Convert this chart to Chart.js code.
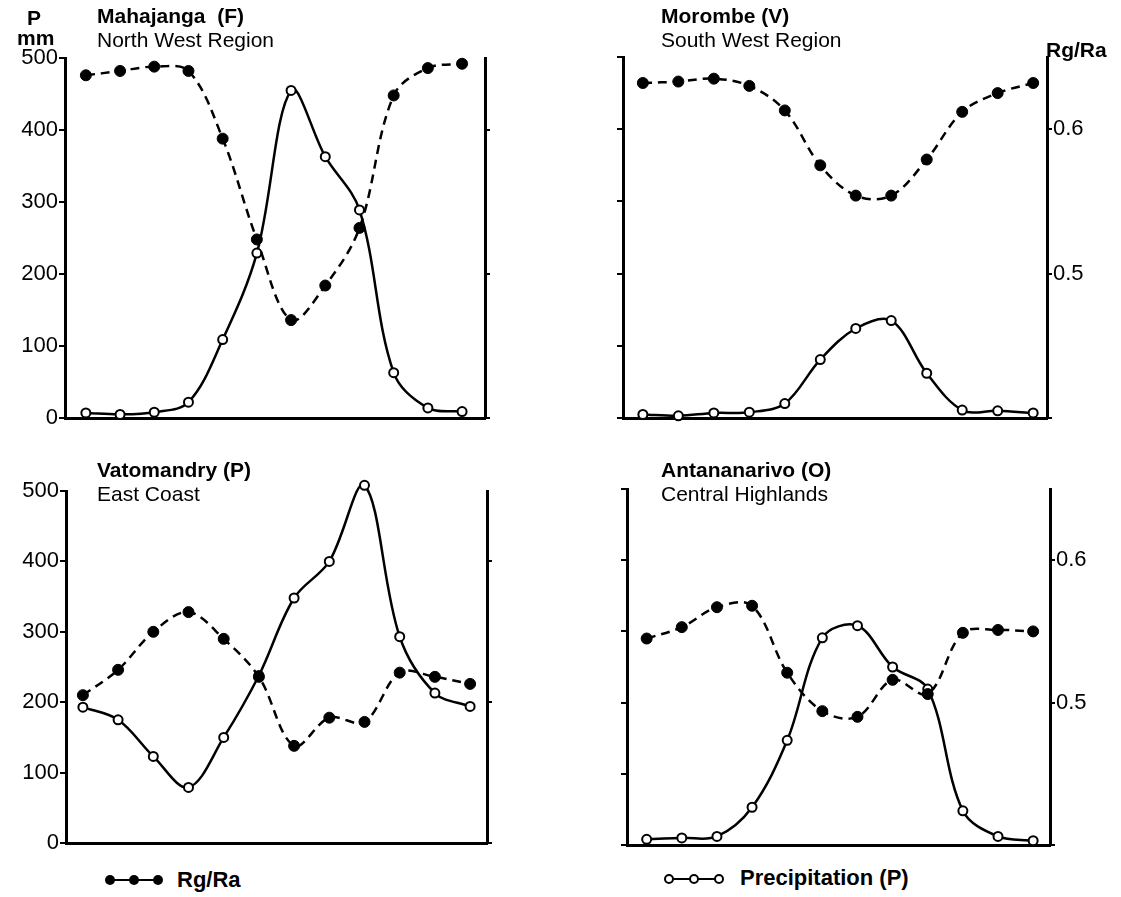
<!DOCTYPE html>
<html>
<head>
<meta charset="utf-8">
<script src="https://cdn.jsdelivr.net/npm/chart.js@4.4.0/dist/chart.umd.min.js"></script>
<style>
  body { margin: 0; background: #fff; }
  #page { position: relative; width: 1121px; height: 897px; overflow: hidden; font-family: "Liberation Sans", Arial, sans-serif; color: #000; }
  canvas { position: absolute; }
  .t { position: absolute; font-size: 21px; line-height: 1; white-space: pre; z-index: 2; }
  .b { font-weight: bold; }
  svg { position: absolute; z-index: 2; }
</style>
</head>
<body>
<div id="page">
  <canvas id="c1"></canvas>
  <canvas id="c2"></canvas>
  <canvas id="c3"></canvas>
  <canvas id="c4"></canvas>

  <div class="t b" style="left:27px;top:7px">P</div>
  <div class="t b" style="left:17px;top:27px">mm</div>
  <div class="t b" style="left:1046px;top:39px">Rg/Ra</div>

  <div class="t b" style="left:97px;top:5px">Mahajanga  (F)</div>
  <div class="t" style="left:97px;top:29px">North West Region</div>
  <div class="t b" style="left:661px;top:5px">Morombe (V)</div>
  <div class="t" style="left:661px;top:29px">South West Region</div>
  <div class="t b" style="left:97px;top:459px">Vatomandry (P)</div>
  <div class="t" style="left:97px;top:483px">East Coast</div>
  <div class="t b" style="left:661px;top:459px">Antananarivo (O)</div>
  <div class="t" style="left:661px;top:483px">Central Highlands</div>

  <svg style="left:100px;top:868px" width="70" height="24">
    <line x1="10" y1="12" x2="58" y2="12" stroke="#000" stroke-width="2"/>
    <circle cx="10" cy="12" r="5" fill="#000"/>
    <circle cx="34" cy="12" r="5" fill="#000"/>
    <circle cx="58" cy="12" r="5" fill="#000"/>
  </svg>
  <div class="t b" style="left:177px;top:869px;font-size:22px">Rg/Ra</div>

  <svg style="left:660px;top:867px" width="70" height="24">
    <line x1="9" y1="12" x2="59" y2="12" stroke="#000" stroke-width="2"/>
    <circle cx="9" cy="12" r="4" fill="#fff" stroke="#000" stroke-width="2"/>
    <circle cx="34" cy="12" r="4" fill="#fff" stroke="#000" stroke-width="2"/>
    <circle cx="59" cy="12" r="4" fill="#fff" stroke="#000" stroke-width="2"/>
  </svg>
  <div class="t b" style="left:740px;top:867px;font-size:22px">Precipitation (P)</div>
</div>

<script>
// months of the year, January to December
const months = [1, 2, 3, 4, 5, 6, 7, 8, 9, 10, 11, 12]

// precipitation P (mm) and Rg/Ra for each station
const precipMahajanga = [7, 5, 8, 22, 109, 229, 455, 363, 289, 63, 14, 9]
const ratioMahajanga = [0.638, 0.641, 0.644, 0.641, 0.594, 0.524, 0.468, 0.492, 0.532, 0.624, 0.643, 0.646]

const precipMorombe = [5, 3, 7, 8, 20, 81, 124, 135, 62, 11, 10, 7]
const ratioMorombe = [0.632, 0.633, 0.635, 0.630, 0.613, 0.575, 0.554, 0.554, 0.579, 0.612, 0.625, 0.632]

const precipVatomandry = [193, 175, 123, 79, 150, 238, 348, 400, 508, 293, 213, 194]
const ratioVatomandry = [0.505, 0.523, 0.550, 0.564, 0.545, 0.518, 0.469, 0.489, 0.486, 0.521, 0.518, 0.513]

const precipAntananarivo = [8, 10, 12, 53, 147, 291, 308, 250, 219, 48, 12, 6]
const ratioAntananarivo = [0.545, 0.553, 0.567, 0.568, 0.521, 0.494, 0.490, 0.516, 0.506, 0.549, 0.551, 0.550]

// axis ranges
const precipMin = 0
const precipMax = 500
const precipStep = 100
const ratioMin = 0.4
const ratioMax = 0.65
const ratioStep = 0.1


function makePanel(id, box, precip, ratio, leftLabels, rightLabels) {
    const canvas = document.getElementById(id)
    canvas.style.left = box.left + 'px'
    canvas.style.top = box.top + 'px'
    canvas.width = box.width
    canvas.height = box.height

    const tickFont = { family: 'Liberation Sans', size: 22 }
    const data = {
        datasets: [
            {
                // Rg/Ra, dashed line with filled dots
                data: months.map((m, i) => ({ x: m, y: ratio[i] })),
                yAxisID: 'y1',
                borderColor: '#000',
                borderWidth: 2.5,
                borderDash: [9, 6],
                tension: 0.35,
                pointRadius: 5.5,
                pointBackgroundColor: '#000',
                pointBorderColor: '#000',
                pointBorderWidth: 1,
                clip: false
            },
            {
                // precipitation, solid line with open circles
                data: months.map((m, i) => ({ x: m, y: precip[i] })),
                yAxisID: 'y',
                borderColor: '#000',
                borderWidth: 2.5,
                tension: 0.35,
                pointRadius: 4.5,
                pointBackgroundColor: '#fff',
                pointBorderColor: '#000',
                pointBorderWidth: 2,
                clip: false
            }
        ]
    }

    const options = {
        responsive: false,
        animation: false,
        events: [],
        layout: { padding: { top: box.padTop, left: 0, right: 0, bottom: 0 } },
        plugins: { legend: { display: false }, tooltip: { enabled: false } },
        scales: {
            x: {
                type: 'linear',
                min: box.xMin,
                max: box.xMax,
                grid: { display: false },
                ticks: { display: false },
                border: { display: true, color: '#000', width: 3 },
                afterFit: s => { s.height = box.xHeight }
            },
            y: {
                position: 'left',
                min: precipMin,
                max: precipMax,
                ticks: {
                    stepSize: precipStep,
                    color: '#000',
                    font: tickFont,
                    padding: 1,
                    callback: v => leftLabels ? v : ''
                },
                grid: { drawOnChartArea: false, drawTicks: true, tickLength: 6, color: '#000', lineWidth: 2 },
                border: { display: true, color: '#000', width: 3 },
                afterFit: s => { s.width = box.leftW }
            },
            y1: {
                position: 'right',
                min: ratioMin,
                max: ratioMax,
                ticks: {
                    stepSize: ratioStep,
                    includeBounds: false,
                    color: '#000',
                    font: tickFont,
                    padding: 1,
                    callback: v => (rightLabels && v > ratioMin + 0.01) ? v.toFixed(1) : ''
                },
                grid: { drawOnChartArea: false, drawTicks: true, tickLength: 5, color: '#000', lineWidth: 2 },
                border: { display: true, color: '#000', width: 3 },
                afterFit: s => { s.width = box.rightW }
            }
        }
    }

    new Chart(canvas, { type: 'line', data, options })
}


makePanel('c1', { left: 0, top: 20, width: 560, height: 420, padTop: 38, leftW: 65, rightW: 75, xHeight: 22, xMin: 0.39, xMax: 12.67 },
    precipMahajanga, ratioMahajanga, true, false)

makePanel('c2', { left: 560, top: 20, width: 561, height: 420, padTop: 37, leftW: 63, rightW: 74, xHeight: 22, xMin: 0.44, xMax: 12.39 },
    precipMorombe, ratioMorombe, false, true)

makePanel('c3', { left: 0, top: 455, width: 560, height: 410, padTop: 36, leftW: 66, rightW: 73, xHeight: 22, xMin: 0.52, xMax: 12.48 },
    precipVatomandry, ratioVatomandry, true, false)

makePanel('c4', { left: 560, top: 455, width: 561, height: 410, padTop: 34, leftW: 67, rightW: 71, xHeight: 20, xMin: 0.44, xMax: 12.48 },
    precipAntananarivo, ratioAntananarivo, false, true)
</script>
</body>
</html>
